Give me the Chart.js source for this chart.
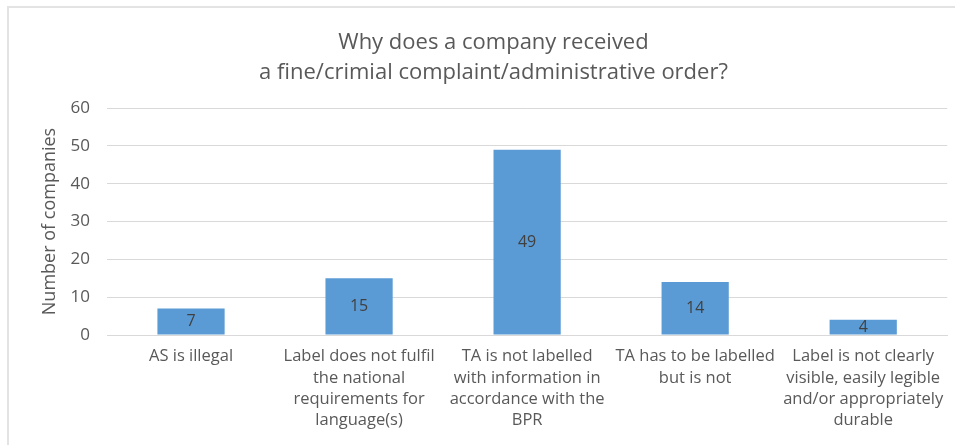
<!DOCTYPE html>
<html>
<head>
<meta charset="utf-8">
<script src="https://cdn.jsdelivr.net/npm/chart.js@4/dist/chart.umd.min.js"></script>
<style>
  html, body { margin: 0; padding: 0; background: #fff; }
  #wrap { position: relative; width: 955px; height: 445px; overflow: hidden; }
  #frame { position: absolute; left: 7px; top: 6px; width: 1000px; height: 500px; border-left: 2px solid #e3e3e3; border-top: 2px solid #e3e3e3; box-sizing: border-box; }
  canvas { position: absolute; left: 0; top: 0; }
</style>
</head>
<body>
<div id="wrap">
  <div id="frame"></div>
  <canvas id="c" width="955" height="445"></canvas>
</div>
<script>
const titleLines = ["Why does a company received", "a fine/crimial complaint/administrative order?"];
const yAxisTitle = "Number of companies";
const categories = [
  ["AS is illegal"],
  ["Label does not fulfil", "the national", "requirements for", "language(s)"],
  ["TA is not labelled", "with information in", "accordance with the", "BPR"],
  ["TA has to be labelled", "but is not"],
  ["Label is not clearly", "visible, easily legible", "and/or appropriately", "durable"]
];
const values = [7, 15, 49, 14, 4];
const yTicks = [0, 10, 20, 30, 40, 50, 60];

const FONT = "'Open Sans', Lato, sans-serif";

const dataLabels = {
  id: 'dataLabels',
  afterDatasetsDraw(chart) {
    const ctx = chart.ctx;
    const meta = chart.getDatasetMeta(0);
    ctx.save();
    ctx.font = "16px " + FONT;
    ctx.fillStyle = "#404040";
    ctx.textAlign = "center";
    ctx.textBaseline = "middle";
    meta.data.forEach((bar, i) => {
      const y = (bar.y + bar.base) / 2;
      ctx.fillText(String(values[i]), bar.x, y);
    });
    ctx.restore();
  }
};

new Chart(document.getElementById('c'), {
  type: 'bar',
  data: {
    labels: categories,
    datasets: [{
      data: values,
      backgroundColor: '#5B9BD5',
      borderWidth: 0,
      categoryPercentage: 1.0,
      barPercentage: 0.4
    }]
  },
  options: {
    responsive: false,
    animation: false,
    layout: { padding: { left: 39, right: 7, top: 0, bottom: 0 } },
    plugins: {
      legend: { display: false },
      tooltip: { enabled: false },
      title: {
        display: true,
        text: titleLines,
        color: '#595959',
        font: { family: FONT, size: 22, weight: 'normal', lineHeight: 1.364 },
        padding: { top: 28, bottom: 20 }
      }
    },
    scales: {
      x: {
        grid: { display: false, drawTicks: false },
        border: { display: true, color: '#d9d9d9', width: 1 },
        ticks: {
          color: '#595959',
          font: { family: FONT, size: 16.5, lineHeight: 1.29 },
          padding: 11,
          maxRotation: 0,
          autoSkip: false
        },
        afterFit(scale) { scale.height = 110; }
      },
      y: {
        min: 0, max: 60,
        afterBuildTicks(scale) { scale.ticks = yTicks.map(v => ({ value: v })); },
        grid: { color: '#d9d9d9', drawTicks: false },
        border: { display: false },
        ticks: {
          color: '#595959',
          font: { family: FONT, size: 17 },
          padding: 17
        },
        title: {
          display: true,
          text: yAxisTitle,
          color: '#595959',
          font: { family: FONT, size: 18, lineHeight: 1.2 },
          padding: { top: 0, bottom: 0 }
        },
        afterFit(scale) { scale.width = 68; }
      }
    }
  },
  plugins: [dataLabels]
});
</script>
</body>
</html>
